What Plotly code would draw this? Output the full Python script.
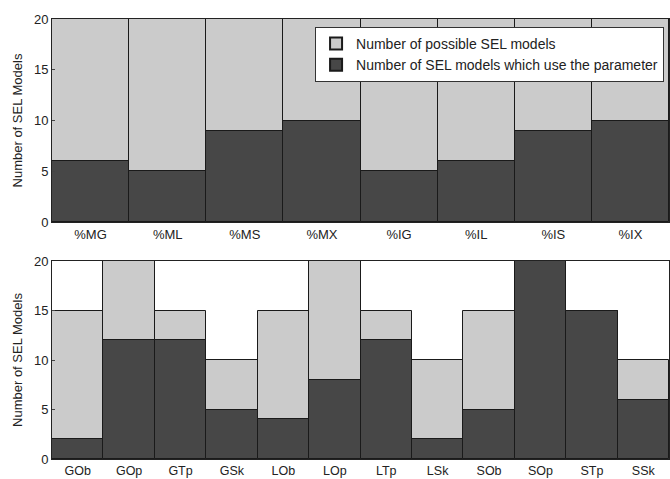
import plotly.graph_objects as go
from plotly.subplots import make_subplots

top_cats = ["%MG", "%ML", "%MS", "%MX", "%IG", "%IL", "%IS", "%IX"]
top_possible = [20, 20, 20, 20, 20, 20, 20, 20]
top_used = [6, 5, 9, 10, 5, 6, 9, 10]

bot_cats = ["GOb", "GOp", "GTp", "GSk", "LOb", "LOp", "LTp", "LSk", "SOb", "SOp", "STp", "SSk"]
bot_possible = [15, 20, 15, 10, 15, 20, 15, 10, 15, 20, 15, 10]
bot_used = [2, 12, 12, 5, 4, 8, 12, 2, 5, 20, 15, 6]

LIGHT = "#cbcbcb"
DARK = "#474747"
EDGE = "#1a1a1a"

fig = make_subplots(rows=2, cols=1, vertical_spacing=0.0)

names = ["Number of possible SEL models", "Number of SEL models which use the parameter"]

fig.add_trace(go.Bar(x=top_cats, y=top_possible, name=names[0], marker=dict(color=LIGHT, line=dict(color=EDGE, width=1)), showlegend=True), row=1, col=1)
fig.add_trace(go.Bar(x=top_cats, y=top_used, name=names[1], marker=dict(color=DARK, line=dict(color=EDGE, width=1)), showlegend=True), row=1, col=1)
fig.add_trace(go.Bar(x=bot_cats, y=bot_possible, name=names[0], marker=dict(color=LIGHT, line=dict(color=EDGE, width=1)), showlegend=False), row=2, col=1)
fig.add_trace(go.Bar(x=bot_cats, y=bot_used, name=names[1], marker=dict(color=DARK, line=dict(color=EDGE, width=1)), showlegend=False), row=2, col=1)

B = 20
H_PLOT = 479 - 19 - B
zero_bot = 479 - B
top_bottom = (zero_bot - 222) / H_PLOT
bot_top = (zero_bot - 261) / H_PLOT

axis_common = dict(showline=True, linecolor="#222", linewidth=1, mirror=True, automargin=False)
TF13 = dict(family="Liberation Sans, Arial", size=13, color="#222")
TF12 = dict(family="Liberation Sans, Arial", size=12.5, color="#222")

fig.update_layout(
    width=670, height=479,
    margin=dict(l=52, r=1, t=19, b=B, autoexpand=False),
    paper_bgcolor="white", plot_bgcolor="white",
    barmode="overlay", bargap=0,
    font=dict(family="Liberation Sans, Arial", size=12, color="#222"),
    legend=dict(x=0.992, y=0.982, xanchor="right", yanchor="top",
                bgcolor="white", bordercolor="#333", borderwidth=1,
                font=dict(size=14, color="#222"), tracegroupgap=0,
                itemsizing="constant"),
    xaxis=dict(domain=[0, 1], range=[-0.5, 7.5], ticks="", tickfont=TF13, **axis_common),
    yaxis=dict(domain=[top_bottom, 1], range=[0, 20], tickvals=[0, 5, 10, 15, 20],
               ticks="inside", ticklen=3, showgrid=False, zeroline=False, tickfont=TF13,
               title=dict(text="Number of SEL Models", font=dict(size=13), standoff=8), **axis_common),
    xaxis2=dict(domain=[0, 1], range=[-0.5, 11.5], ticks="", ticklabelstandoff=0, tickfont=TF12, **axis_common),
    yaxis2=dict(domain=[0, bot_top], range=[0, 20], tickvals=[0, 5, 10, 15, 20],
                ticks="inside", ticklen=3, showgrid=False, zeroline=False, tickfont=TF13,
                title=dict(text="Number of SEL Models", font=dict(size=13), standoff=8), **axis_common),
)

fig.write_html("out.html")
